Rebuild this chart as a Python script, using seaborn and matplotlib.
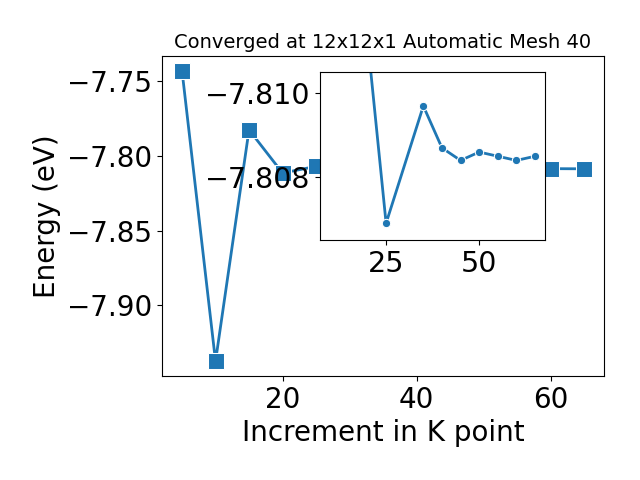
import numpy as np
import matplotlib
matplotlib.use('Agg')
import matplotlib.pyplot as plt
import seaborn as sns

# k-point increment and total energy (eV)
kpoints = [5, 10, 15, 20, 25, 35, 40, 45, 50, 55, 60, 65]
energy = [-7.7428, -7.9374, -7.7824, -7.8113, -7.8069, -7.8097,
          -7.8087, -7.8084, -7.8086, -7.8085, -7.8084, -7.8085]

inset_xticks = [25, 50]
inset_yticks = [-7.810, -7.808]
inset_yticklabels = ['\u22127.810', '\u22127.808']

fig = plt.figure(figsize=(6.4, 4.8), dpi=100)
ax = fig.add_subplot(111)
fig.subplots_adjust(left=0.253, right=0.944, bottom=0.217, top=0.883)

sns.lineplot(x=kpoints, y=energy, marker='s', markersize=12, linewidth=2,
             color='#1f77b4', ax=ax)
ax.set_xlabel('Increment in K point', fontsize=20)
ax.set_ylabel('Energy (eV)', fontsize=20)
ax.set_title('Converged at 12x12x1 Automatic Mesh 40', fontsize=14)
ax.tick_params(labelsize=20)

# 放大图
ax2 = fig.add_axes([0.5, 0.5, 0.352, 0.349])
sns.lineplot(x=kpoints[3:], y=energy[3:], marker='o', markersize=6, linewidth=2,
             color='#1f77b4', ax=ax2)
ax2.set_xlim(7.25, 67.75)
ax2.set_ylim(-7.8065, -7.8105)
ax2.set_xticks(inset_xticks)
ax2.set_yticks(inset_yticks, inset_yticklabels)
ax2.tick_params(labelsize=20.5)

plt.savefig('out.png', dpi=100)
